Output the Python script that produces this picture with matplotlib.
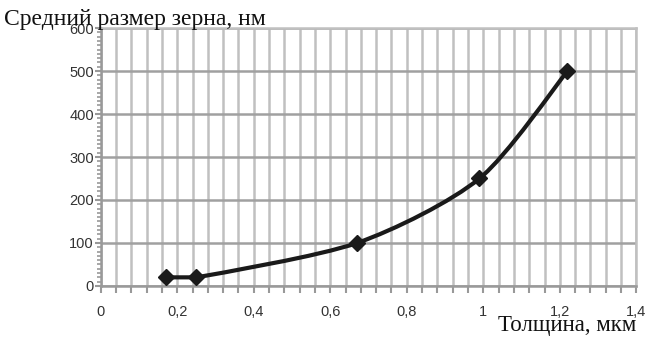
import numpy as np
import matplotlib
matplotlib.use('Agg')
import matplotlib.pyplot as plt
import matplotlib.ticker as plticker
from matplotlib.path import Path
from matplotlib.patches import PathPatch

# data
thickness = [0.17, 0.25, 0.67, 0.99, 1.22]
grain = [20, 20, 100, 250, 500]

title = "Средний размер зерна, нм"
xlabel = "Толщина, мкм"


def smooth_path(xs, ys, t=0.4):
	# Excel-like smoothed line: cubic bezier through points
	pts = list(zip(xs, ys))
	verts = [pts[0]]
	codes = [Path.MOVETO]
	n = len(pts)
	for i in range(n - 1):
		p0 = pts[i - 1] if i > 0 else pts[i]
		p1 = pts[i]
		p2 = pts[i + 1]
		p3 = pts[i + 2] if i + 2 < n else pts[i + 1]
		c1 = (p1[0] + (p2[0] - p0[0]) * t / 3, p1[1] + (p2[1] - p0[1]) * t / 3)
		c2 = (p2[0] - (p3[0] - p1[0]) * t / 3, p2[1] - (p3[1] - p1[1]) * t / 3)
		if i == 0:
			c2 = (c2[0], max(c2[1], p2[1]))
		verts += [c1, c2, p2]
		codes += [Path.CURVE4] * 3
	return Path(verts, codes)


fig = plt.figure(figsize=(6.46, 3.38), dpi=100)
ax = fig.add_axes([0.156, 0.154, 0.829, 0.763])

ax.set_xlim(0, 1.4)
ax.set_ylim(0, 600)

# grid
ax.xaxis.set_major_locator(plticker.MultipleLocator(0.2))
ax.xaxis.set_minor_locator(plticker.MultipleLocator(0.04))
ax.yaxis.set_major_locator(plticker.MultipleLocator(100))
ax.yaxis.set_minor_locator(plticker.MultipleLocator(10))
ax.xaxis.grid(which='both', color='#c0c0c0', lw=1.8)
ax.yaxis.grid(which='major', color='#a0a0a0', lw=1.8)
ax.set_axisbelow(True)

for s in ['top', 'right']:
	ax.spines[s].set_color('#c0c0c0')
	ax.spines[s].set_linewidth(1.8)
for s in ['left', 'bottom']:
	ax.spines[s].set_color('#999999')
	ax.spines[s].set_linewidth(1.8)

ax.tick_params(axis='y', which='major', length=4, width=1.5, color='#999999',
	labelsize=10.5, labelcolor='#333333', pad=1)
ax.tick_params(axis='y', which='minor', length=3, width=1.2, color='#999999')
ax.tick_params(axis='x', which='major', length=5, width=1.5, color='#999999',
	labelsize=10.5, labelcolor='#333333', pad=9)
ax.tick_params(axis='x', which='minor', length=5, width=1.5, color='#999999')

fmt = plticker.FuncFormatter(lambda v, p: ("%g" % round(v, 2)).replace('.', ','))
ax.xaxis.set_major_formatter(fmt)
for lab in ax.get_xticklabels() + ax.get_yticklabels():
	lab.set_family('Liberation Sans')

# curve
ax.add_patch(PathPatch(smooth_path(thickness, grain), fill=False, lw=3, ec='#1a1a1a',
	capstyle='round', joinstyle='round', zorder=3))
ax.plot(thickness, grain, ls='none', marker='D', ms=8, color='#1a1a1a', zorder=4)

fig.text(4 / 646, 1 - 19 / 338, title, family='Liberation Serif', fontsize=17,
	va='center', ha='left', color='#111111')
fig.text(636 / 646, 1 - 326 / 338, xlabel, family='Liberation Serif', fontsize=16.5,
	va='center', ha='right', color='#111111')

fig.savefig('out.png', dpi=100)
